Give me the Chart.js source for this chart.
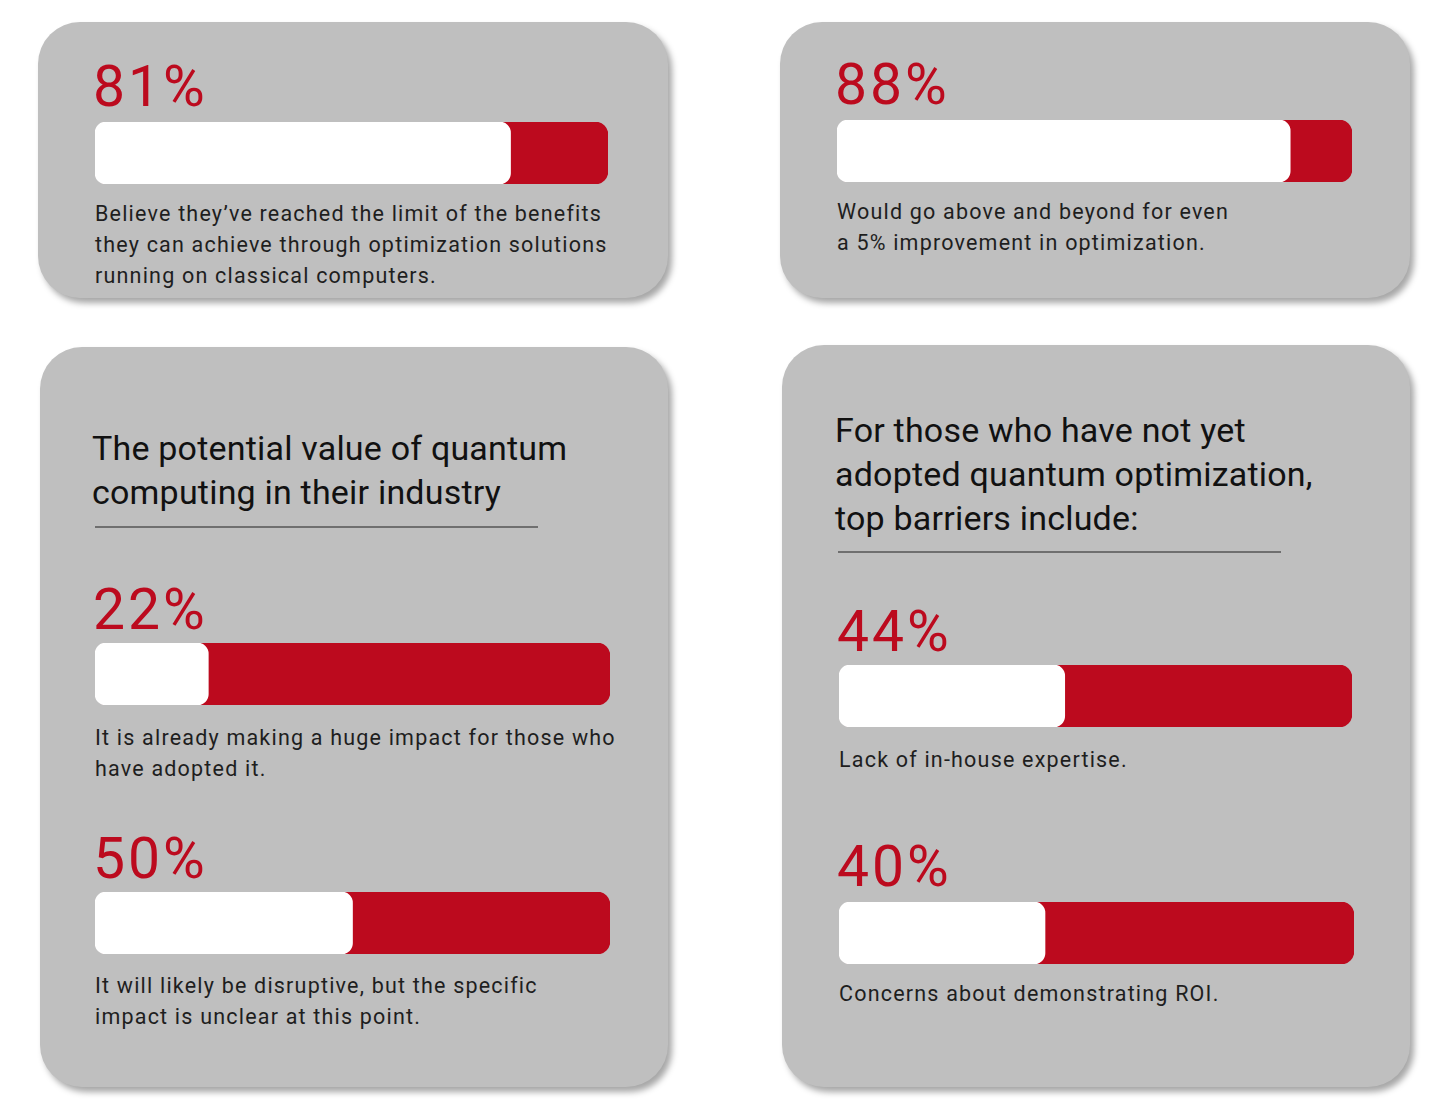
<!DOCTYPE html>
<html>
<head>
<meta charset="utf-8">
<script src="https://cdn.jsdelivr.net/npm/chart.js@4.4.1/dist/chart.umd.min.js"></script>
<style>
  html, body { margin: 0; padding: 0; background: #fff; }
  body { width: 1439px; height: 1105px; position: relative; overflow: hidden; font-family: Roboto, "Noto Sans", sans-serif; }
  .card { position: absolute; background: #bfbfbf; border-radius: 42px; box-shadow: 4px 5px 6px rgba(0,0,0,.35); }
  .pct { position: absolute; color: #bc0a1e; font-size: 57px; line-height: 1; font-weight: 400; letter-spacing: 3px; }
  .bar { position: absolute; height: 62px; }
  .cap { position: absolute; color: #1e1e1e; font-size: 21.5px; line-height: 31px; letter-spacing: 1.2px; white-space: nowrap; }
  .head { position: absolute; color: #111; font-size: 34px; line-height: 44px; white-space: nowrap; letter-spacing: 0.2px; }
  .rule { position: absolute; height: 2px; background: #6f6f6f; }
</style>
</head>
<body>
<script>
// survey figures shown on the bars (share of respondents, %)
const statValues = [81, 88, 22, 50, 44, 40];
const statCaptions = [
  ['Believe they\u2019ve reached the limit of the benefits', 'they can achieve through optimization solutions', 'running on classical computers.'],
  ['Would go above and beyond for even', 'a 5% improvement in optimization.'],
  ['It is already making a huge impact for those who', 'have adopted it.'],
  ['It will likely be disruptive, but the specific', 'impact is unclear at this point.'],
  ['Lack of in-house expertise.'],
  ['Concerns about demonstrating ROI.']
];
const cardHeadings = [
  null,
  null,
  ['The potential value of quantum', 'computing in their industry'],
  ['For those who have not yet', 'adopted quantum optimization,', 'top barriers include:']
];

// layout of the four cards and which stats sit in each
const cards = [
  { x: 38, y: 22, w: 630, h: 276, stats: [0] },
  { x: 780, y: 22, w: 630, h: 276, stats: [1] },
  { x: 40, y: 347, w: 628, h: 740, stats: [2, 3] },
  { x: 782, y: 345, w: 628, h: 742, stats: [4, 5] }
];
// absolute positions: percent label top, bar top, caption top, left edge, bar width
const statPos = [
  { left: 95, pctTop: 58, barTop: 122, capTop: 198, w: 513 },
  { left: 837, pctTop: 56, barTop: 120, capTop: 196, w: 515 },
  { left: 95, pctTop: 581, barTop: 643, capTop: 722, w: 515 },
  { left: 95, pctTop: 830, barTop: 892, capTop: 970, w: 515 },
  { left: 839, pctTop: 603, barTop: 665, capTop: 744, w: 513 },
  { left: 839, pctTop: 838, barTop: 902, capTop: 978, w: 515 }
];
const headPos = [null, null, { left: 92, top: 426, ruleTop: 526, ruleW: 443 }, { left: 835, top: 408, ruleTop: 551, ruleW: 443 }];

function el(cls, css, html) {
  const d = document.createElement('div');
  d.className = cls;
  Object.assign(d.style, css);
  if (html !== undefined) d.innerHTML = html;
  document.body.appendChild(d);
  return d;
}

cards.forEach((c, ci) => {
  el('card', { left: c.x + 'px', top: c.y + 'px', width: c.w + 'px', height: c.h + 'px' });
  const hp = headPos[ci];
  if (cardHeadings[ci]) {
    el('head', { left: hp.left + 'px', top: hp.top + 'px' }, cardHeadings[ci].join('<br>'));
    el('rule', { left: (hp.left + 3) + 'px', top: hp.ruleTop + 'px', width: hp.ruleW + 'px' });
  }
  c.stats.forEach(si => {
    const p = statPos[si];
    el('pct', { left: (p.left - 2) + 'px', top: p.pctTop + 'px' }, statValues[si] + '%');
    el('cap', { left: p.left + 'px', top: p.capTop + 'px' }, statCaptions[si].join('<br>'));
    const wrap = el('bar', { left: p.left + 'px', top: p.barTop + 'px', width: p.w + 'px' });
    const cv = document.createElement('canvas');
    wrap.appendChild(cv);
    new Chart(cv, {
      type: 'bar',
      data: {
        labels: [''],
        datasets: [
          { data: [statValues[si]], backgroundColor: '#ffffff', borderRadius: 11, borderSkipped: false },
          { data: [100], backgroundColor: '#bc0a1e', borderRadius: 13, borderSkipped: false }
        ]
      },
      options: {
        indexAxis: 'y',
        responsive: true,
        maintainAspectRatio: false,
        animation: false,
        datasets: { bar: { barPercentage: 1, categoryPercentage: 1, grouped: false } },
        layout: { padding: 0 },
        plugins: { legend: { display: false }, tooltip: { enabled: false } },
        scales: {
          x: { display: false, min: 0, max: 100 },
          y: { display: false }
        }
      }
    });
  });
});
</script>
</body>
</html>
